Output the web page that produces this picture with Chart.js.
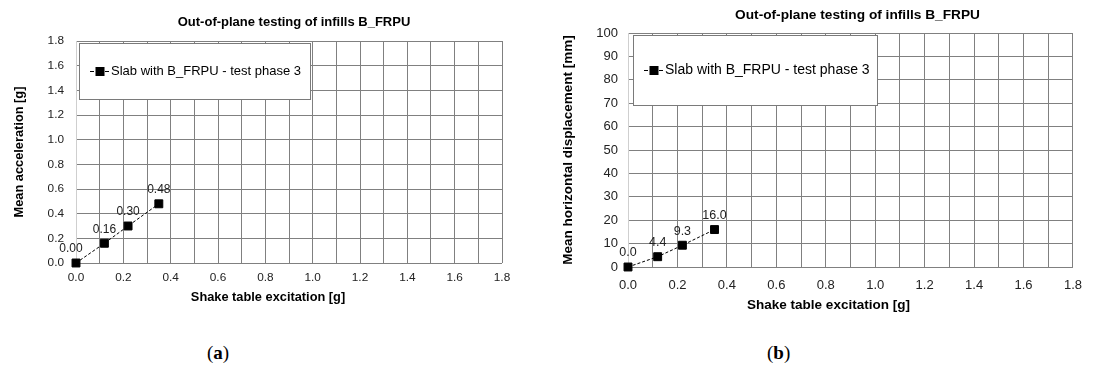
<!DOCTYPE html>
<html>
<head>
<meta charset="utf-8">
<script src="https://cdn.jsdelivr.net/npm/chart.js@4/dist/chart.umd.min.js"></script>
<style>
  body { margin: 0; background: #fff; width: 1093px; height: 367px; position: relative; overflow: hidden; }
  canvas { position: absolute; top: 0; }
  #chartA { left: 0; }
  #chartB { left: 540px; }
  .cap { position: absolute; top: 343px; font-family: "Liberation Serif", "DejaVu Serif", serif; font-size: 19px; color: #000; line-height: 1; }
</style>
</head>
<body>
<canvas id="chartA" width="540" height="325"></canvas>
<canvas id="chartB" width="553" height="325"></canvas>
<div class="cap" style="left:207px">(<b>a</b>)</div>
<div class="cap" style="left:767px">(<b>b</b>)</div>
<script>
var excitation = [0, 0.12, 0.22, 0.35];
var acceleration = [0, 0.16, 0.30, 0.48];
var displacement = [0, 4.4, 9.3, 16.0];
var seriesName = "Slab with B_FRPU - test phase 3";
var chartTitle = "Out-of-plane testing of infills B_FRPU";
var xTitle = "Shake table excitation [g]";
var yTitleA = "Mean acceleration [g]";
var yTitleB = "Mean horizontal displacement [mm]";

var FONT = "'Liberation Sans', Arial, sans-serif";
var GRID = "#808080";

function points(xs, ys) {
    return xs.map(function(x, i) { return {x: x, y: ys[i]}; });
}

// point labels, titles and the legend box inside the plot
var extrasPlugin = {
    id: "extras",
    afterDatasetsDraw: function(chart, args, opts) {
        var ctx = chart.ctx;
        var meta = chart.getDatasetMeta(0);
        var ds = chart.data.datasets[0];
        ctx.save();
        ctx.font = opts.labelSize + "px " + FONT;
        ctx.fillStyle = "#222";
        ctx.textAlign = "center";
        ctx.textBaseline = "middle";
        meta.data.forEach(function(pt, i) {
            var dx = i === 0 ? opts.firstDx : 0;
            ctx.fillText(ds.data[i].y.toFixed(opts.digits), pt.x + dx, pt.y - 14);
        });
        ctx.restore();
    },
    afterDraw: function(chart, args, opts) {
        var ctx = chart.ctx;
        var a = chart.chartArea;
        var mid = (a.left + a.right) / 2;
        ctx.save();
        // titles
        ctx.fillStyle = "#000";
        ctx.textAlign = "center";
        ctx.textBaseline = "middle";
        ctx.font = "bold " + opts.titleSize + "px " + FONT;
        ctx.fillText(chartTitle, mid + opts.titleDx, opts.titleY);
        ctx.font = "bold " + opts.axisTitleSize + "px " + FONT;
        ctx.fillText(xTitle, mid + opts.xTitleDx, opts.xTitleY);
        // legend
        var bx = a.left + opts.box[0], by = a.top + opts.box[1];
        var bw = opts.box[2], bh = opts.box[3];
        ctx.fillStyle = "#fff";
        ctx.fillRect(bx, by, bw, bh);
        ctx.strokeStyle = "#7a7a7a";
        ctx.lineWidth = 1;
        ctx.strokeRect(bx + 0.5, by + 0.5, bw, bh);
        var cy = Math.round(by + bh / 2) + 0.5;
        var sx = bx + 11;
        ctx.strokeStyle = "#000";
        ctx.beginPath();
        ctx.moveTo(sx, cy);
        ctx.lineTo(sx + 4, cy);
        ctx.moveTo(sx + 15, cy);
        ctx.lineTo(sx + 19, cy);
        ctx.stroke();
        ctx.fillStyle = "#000";
        ctx.fillRect(sx + 5.5, cy - 4.5, 9, 9);
        ctx.font = opts.legendSize + "px " + FONT;
        ctx.textAlign = "left";
        ctx.fillText(chart.data.datasets[0].label, sx + 21, cy);
        ctx.restore();
    }
};

function makeChart(id, ys, yMax, yStep, yTitle, cfg) {
    return new Chart(id, {
        type: "scatter",
        data: {
            datasets: [{
                label: seriesName,
                data: points(excitation, ys),
                showLine: true,
                clip: false,
                borderColor: "#000",
                borderWidth: 1,
                borderDash: [3, 2],
                pointStyle: "rect",
                pointRadius: 5.6,
                pointBackgroundColor: "#000",
                pointBorderColor: "#000",
                pointBorderWidth: 1
            }]
        },
        options: {
            responsive: false,
            animation: false,
            layout: {padding: {left: 0, right: cfg.right, top: cfg.top, bottom: 0}},
            plugins: {
                legend: {display: false},
                tooltip: {enabled: false},
                title: {display: false},
                extras: cfg.extras
            },
            scales: {
                x: {
                    type: "linear",
                    min: 0, max: 1.8,
                    afterFit: function(s) { s.height = cfg.xHeight; },
                    ticks: {
                        stepSize: 0.1,
                        padding: cfg.xPad,
                        color: "#222",
                        font: {family: FONT, size: cfg.tickSize},
                        maxRotation: 0,
                        autoSkip: false,
                        callback: function(v) { return Math.round(v * 10) % 2 === 0 ? v.toFixed(1) : ""; }
                    },
                    grid: {color: GRID, drawTicks: false},
                    border: {display: false}
                },
                y: {
                    type: "linear",
                    min: 0, max: yMax,
                    afterFit: function(s) { s.width = cfg.yWidth; },
                    ticks: {
                        stepSize: yStep,
                        padding: cfg.yPad,
                        color: "#222",
                        font: {family: FONT, size: cfg.tickSize},
                        callback: function(v) { return yStep < 1 ? v.toFixed(1) : String(v); }
                    },
                    grid: {color: GRID, drawTicks: false},
                    border: {display: true, color: "#cfcfcf"},
                    title: {
                        display: true, text: yTitle, color: "#000",
                        font: {family: FONT, size: cfg.extras.axisTitleSize, weight: "bold"},
                        padding: {top: cfg.yTitleLeft, bottom: 0}
                    }
                }
            }
        },
        plugins: [extrasPlugin]
    });
}

window.onload = function() {
    makeChart("chartA", acceleration, 1.8, 0.2, yTitleA, {
        right: 38, top: 41, xHeight: 62, xPad: 8, yWidth: 76, yPad: 12, yTitleLeft: 12,
        tickSize: 11.8,
        extras: {titleSize: 13, titleDx: 5, titleY: 22, axisTitleSize: 12.8, xTitleDx: -21, xTitleY: 297,
                 labelSize: 12, legendSize: 13, digits: 2, firstDx: -5, box: [3, 2, 231, 56]}
    });
    makeChart("chartB", displacement, 100, 10, yTitleB, {
        right: 14, top: 33, xHeight: 58, xPad: 11, yWidth: 88, yPad: 10, yTitleLeft: 20,
        tickSize: 13,
        extras: {titleSize: 13.7, titleDx: 7, titleY: 15, axisTitleSize: 13.5, xTitleDx: -22, xTitleY: 305,
                 labelSize: 12.5, legendSize: 14, digits: 1, firstDx: 0, box: [5, 2, 244, 70]}
    });
};
</script>
</body>
</html>
